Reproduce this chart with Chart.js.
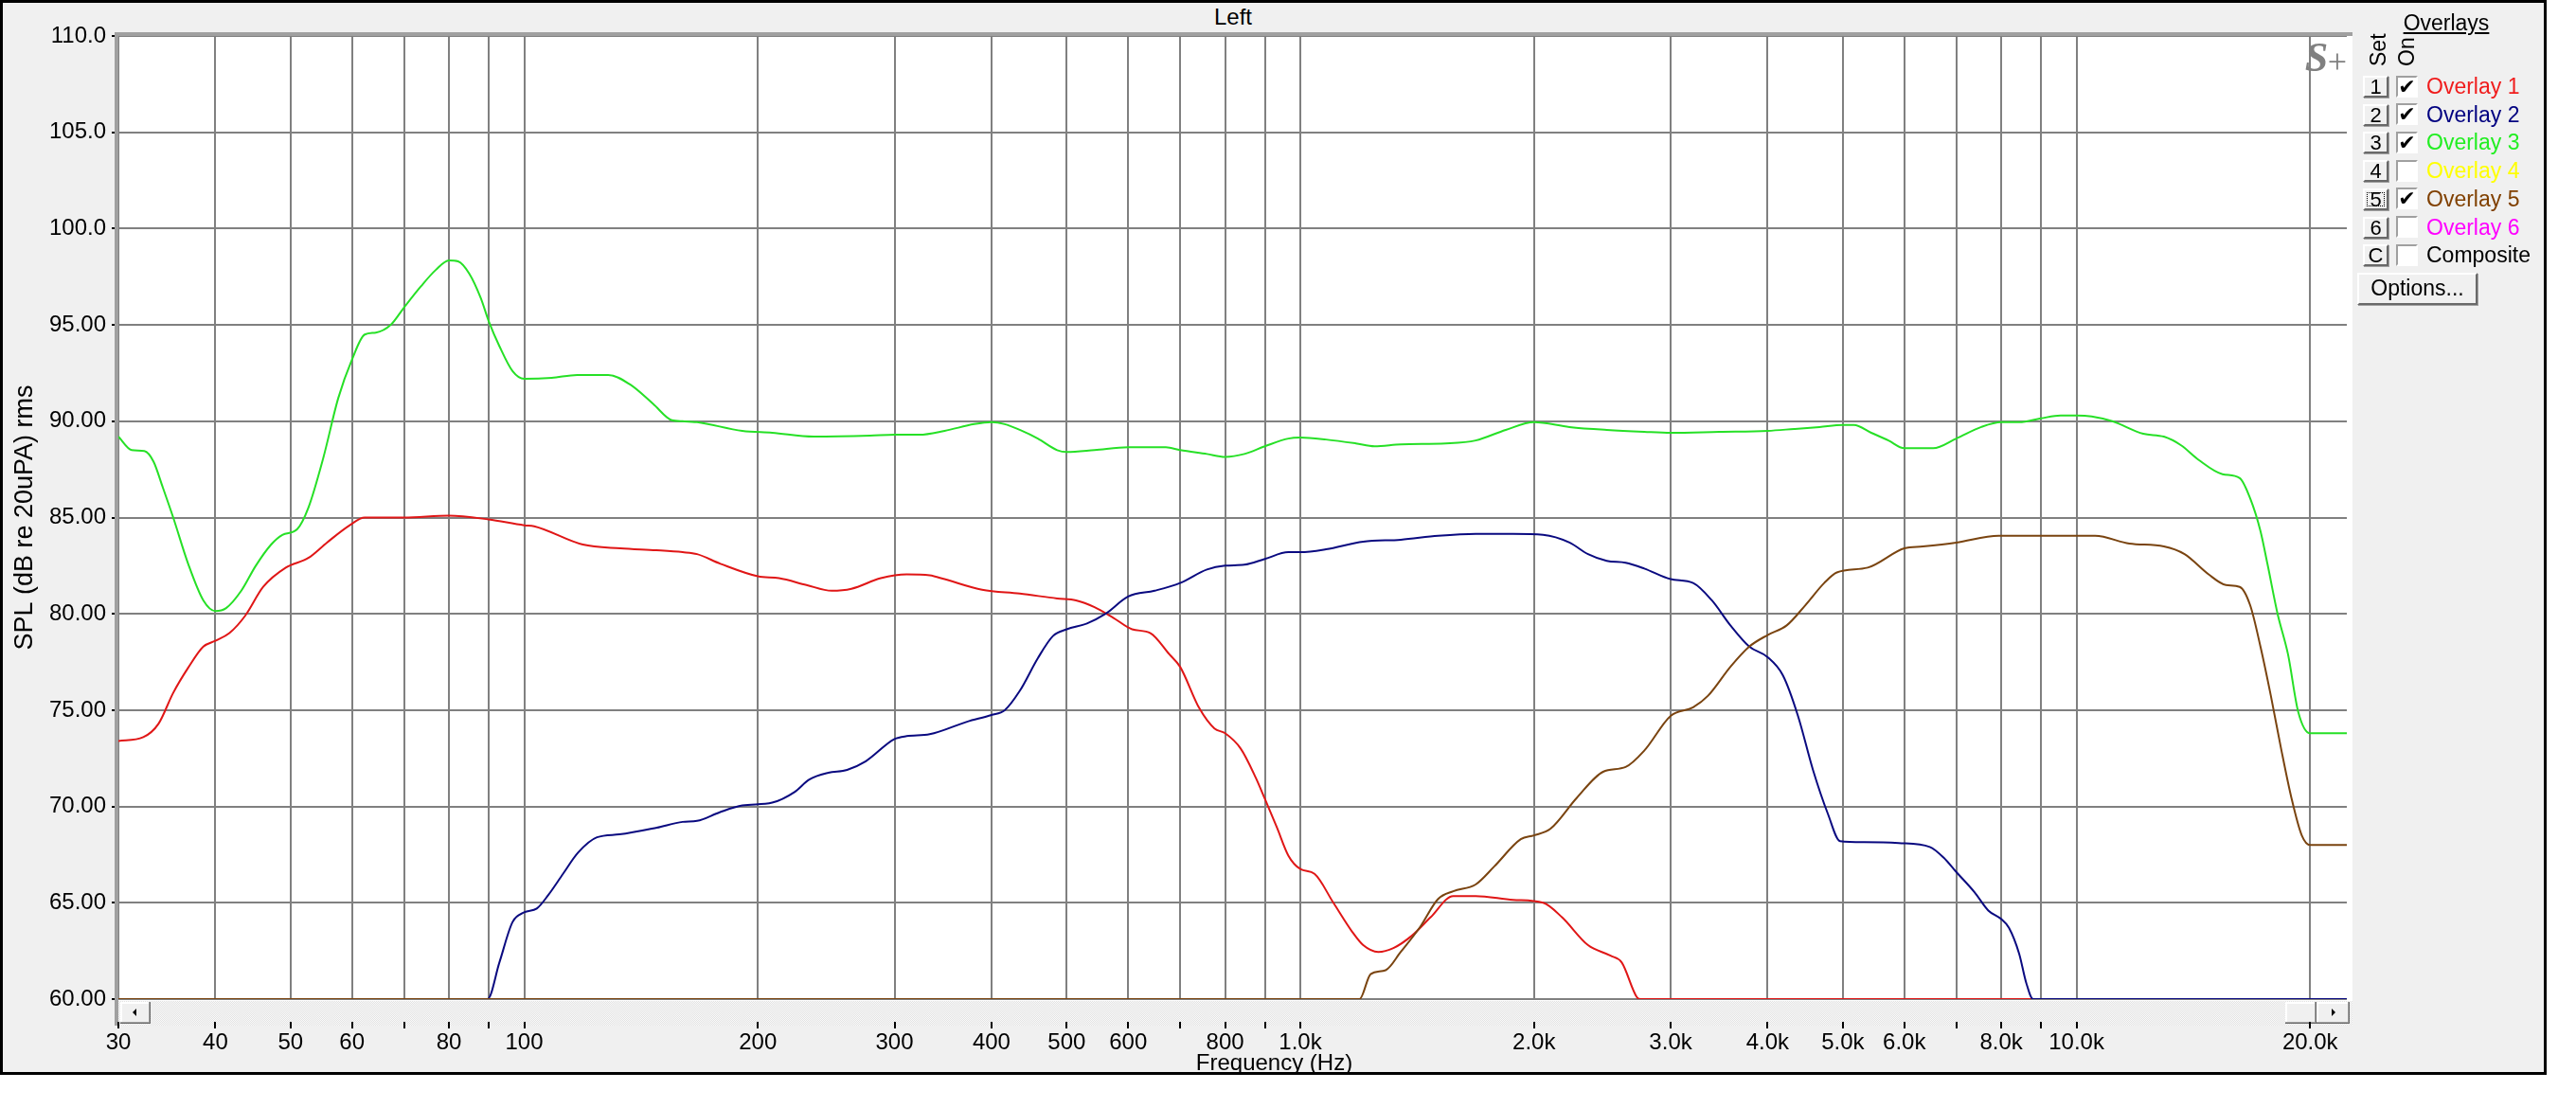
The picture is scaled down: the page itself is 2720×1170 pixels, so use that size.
<!DOCTYPE html>
<html>
<head>
<meta charset="utf-8">
<title>Left</title>
<script src="https://cdn.jsdelivr.net/npm/chart.js@4.4.1/dist/chart.umd.min.js"></script>
<style>
  html, body { margin: 0; padding: 0; background: #fff; }
  body { width: 2720px; height: 1170px; position: relative; overflow: hidden;
         font-family: "Liberation Sans", Arial, sans-serif; }
  #panel { position: absolute; left: 0; top: 0; width: 2689px; height: 1135px;
           box-sizing: border-box; border: 3px solid #000; background: #f0f0f0; }
  #plot { position: absolute; left: 0; top: 0; }
  #title { position: absolute; left: 1202px; top: 4px; width: 200px; text-align: center;
           font-size: 24px; line-height: 28px; color: #000; }
  #legend { position: absolute; left: 0; top: 0; width: 2720px; height: 1170px; pointer-events: none; }
  .hdr { position: absolute; left: 2520px; top: 10px; width: 126px; text-align: center;
         font-size: 23px; line-height: 28px; text-decoration: underline; }
  .vert { position: absolute; top: 30px; height: 40px; width: 24px; line-height: 24px; font-size: 23px;
          writing-mode: vertical-rl; transform: rotate(180deg); }
  .btn { position: absolute; box-sizing: border-box; background: #f0f0f0; border: 2px solid;
         border-color: #fff #696969 #696969 #fff; text-align: center; color: #000;
         box-shadow: 1px 1px 0 #a0a0a0; }
  .key { left: 2495px; width: 27px; height: 23px; font-size: 22px; line-height: 19px; }
  .chk { position: absolute; left: 2530px; width: 23px; height: 23px; box-sizing: border-box;
         border: 2px solid; border-color: #a0a0a0 #fff #fff #a0a0a0; background: #fff;
         font-size: 22px; font-weight: bold; line-height: 19px; text-align: center; color: #000;
         font-family: "DejaVu Sans", sans-serif; overflow: hidden; }
  .lbl { position: absolute; left: 2562px; font-size: 23px; line-height: 26px; white-space: nowrap; }
  .focus { position: absolute; left: 2px; top: 2px; right: 2px; bottom: 2px; border: 1px dotted #000; }
  #opts { left: 2489px; top: 288px; width: 127px; height: 34px; font-size: 23px; line-height: 29px; }
</style>
</head>
<body>
<div id="panel"></div>
<div id="title">Left</div>
<canvas id="plot" width="2720" height="1170"></canvas>
<div id="legend">
  <div class="hdr">Overlays</div>
  <div class="vert" style="left:2499px">Set</div>
  <div class="vert" style="left:2529px">On</div>
  <div class="btn" id="opts">Options...</div>
</div>
<script>
// frequency grid and tick labels
const xGridHz = [30, 40, 50, 60, 70, 80, 90, 100, 200, 300, 400, 500, 600, 700, 800, 900,
                 1000, 2000, 3000, 4000, 5000, 6000, 7000, 8000, 9000, 10000, 20000];
const xTickLabels = ['30', '40', '50', '60', '', '80', '', '100', '200', '300', '400', '500', '600', '', '800', '',
                     '1.0k', '2.0k', '3.0k', '4.0k', '5.0k', '6.0k', '', '8.0k', '', '10.0k', '20.0k'];
const xMinHz = 30, xMaxHz = 22300;
const yMinDb = 60, yMaxDb = 110, yStepDb = 5;

// Overlay 1 (red)
const overlay1Hz = [30, 32.3, 33.8, 35.3, 36.9, 38.6, 40, 41.7, 43.7, 46.1, 49.3, 52.7, 55.7, 59.6, 62.3, 70, 80, 90,
                    100, 103, 119, 133, 148, 160, 167, 179, 200, 213, 231, 249, 264, 288, 311, 333, 348, 389, 435,
                    486, 514, 543, 574, 607, 641, 678, 700, 741, 775, 800, 838, 876, 900, 933, 965, 1000, 1043,
                    1103, 1166, 1205, 1260, 1318, 1393, 1472, 1574, 1682, 1880, 2055, 2173, 2348, 2510, 2595,
                    2714, 2745, 22300];
const overlay1Db = [73.4, 73.6, 74.3, 75.9, 77.2, 78.3, 78.6, 79.0, 79.9, 81.4, 82.4, 82.9, 83.7, 84.6, 85.0, 85.0,
                    85.1, 84.9, 84.6, 84.55, 83.6, 83.4, 83.3, 83.2, 83.1, 82.6, 81.95, 81.85, 81.5, 81.2, 81.3,
                    81.85, 82.05, 82.0, 81.8, 81.25, 81.05, 80.8, 80.7, 80.35, 79.8, 79.2, 79.0, 77.9, 77.25,
                    75.1, 74.05, 73.8, 73.0, 71.5, 70.4, 68.9, 67.45, 66.75, 66.5, 65.0, 63.5, 62.8, 62.45,
                    62.65, 63.3, 64.25, 65.35, 65.35, 65.15, 65.0, 64.25, 62.8, 62.25, 61.9, 60.1, 60, 60];

// Overlay 2 (blue)
const overlay2Hz = [30, 89.7, 92.9, 96.6, 100, 103.8, 107.4, 112.2, 117.3, 124.1, 132.6, 148.2, 160, 167, 178.6, 191,
                    208.7, 223, 233, 246.5, 260.6, 275.5, 300, 311, 333, 372, 400, 416, 435, 459, 480, 500, 531,
                    561, 600, 649, 700, 758, 800, 847, 900, 965, 1000, 1079, 1205, 1347, 1505, 1682, 1880, 2055,
                    2222, 2348, 2482, 2625, 2774, 3000, 3207, 3390, 3582, 3788, 4000, 4186, 4377, 4576, 4785,
                    4959, 5328, 5902, 6472, 6741, 7000, 7389, 7698, 8000, 8185, 8437, 8614, 8792, 22300];
const overlay2Db = [60, 60, 61.9, 64.0, 64.5, 64.7, 65.4, 66.5, 67.6, 68.4, 68.55, 68.9, 69.2, 69.25, 69.7, 70.05,
                    70.2, 70.75, 71.4, 71.75, 71.9, 72.35, 73.5, 73.65, 73.75, 74.4, 74.75, 75.0, 76.0, 77.7,
                    78.85, 79.2, 79.5, 80.0, 80.9, 81.2, 81.6, 82.3, 82.5, 82.55, 82.85, 83.2, 83.2, 83.35,
                    83.75, 83.85, 84.05, 84.15, 84.15, 84.1, 83.7, 83.1, 82.75, 82.65, 82.35, 81.8, 81.6, 80.7,
                    79.4, 78.3, 77.75, 76.8, 74.7, 71.9, 69.6, 68.2, 68.15, 68.1, 67.9, 67.35, 66.6, 65.55,
                    64.6, 64.15, 63.7, 62.35, 60.85, 60, 60];

// Overlay 3 (green)
const overlay3Hz = [30, 31.2, 32.4, 33.3, 34.2, 35.3, 36.9, 38.6, 40, 41.3, 43.2, 45.1, 47.2, 48.8, 51, 52.7, 55.1,
                    57.6, 60, 62.3, 64.4, 67.3, 70, 73.6, 76.9, 80, 82.2, 85, 87.9, 90, 92.9, 96.6, 100, 108.5,
                    117, 128.3, 137, 146.6, 155, 160, 167, 191, 208.7, 236, 279, 300, 323, 348, 380, 400, 416,
                    435, 459, 486, 500, 543, 600, 671, 700, 758, 800, 847, 900, 965, 1000, 1079, 1179, 1246,
                    1347, 1539, 1682, 1839, 2000, 2222, 2482, 2774, 3000, 3465, 4000, 4327, 4665, 5000, 5166,
                    5439, 5725, 6000, 6536, 7000, 7539, 8000, 8437, 9000, 9538, 10000, 10460, 11120, 12190,
                    12960, 13640, 14360, 15420, 16230, 16740, 17260, 17620, 18160, 18730, 19310, 20000, 22300];
const overlay3Db = [89.2, 88.5, 88.45, 87.9, 86.6, 85.0, 82.6, 80.7, 80.15, 80.3, 81.2, 82.5, 83.6, 84.1, 84.4,
                    85.5, 88.1, 91.2, 93.2, 94.5, 94.6, 95.0, 95.9, 97.0, 97.85, 98.35, 98.3, 97.65, 96.4, 95.2,
                    93.9, 92.6, 92.2, 92.25, 92.4, 92.4, 91.9, 90.9, 90.05, 90.0, 89.95, 89.5, 89.4, 89.2, 89.25,
                    89.3, 89.3, 89.5, 89.85, 89.95, 89.85, 89.55, 89.1, 88.5, 88.4, 88.5, 88.65, 88.65, 88.5,
                    88.3, 88.15, 88.3, 88.7, 89.1, 89.15, 89.05, 88.85, 88.7, 88.8, 88.85, 89.0, 89.55, 89.95,
                    89.7, 89.55, 89.45, 89.4, 89.45, 89.5, 89.6, 89.7, 89.8, 89.8, 89.4, 89.0, 88.6, 88.6, 89.1,
                    89.7, 89.95, 89.95, 90.15, 90.3, 90.3, 90.25, 90.0, 89.35, 89.2, 88.75, 88.0, 87.25, 87.05,
                    86.0, 84.3, 82.6, 80.0, 77.9, 74.9, 73.8, 73.8];

// Overlay 5 (brown)
const overlay5Hz = [30, 1192, 1232, 1288, 1347, 1424, 1505, 1574, 1682, 1779, 1923, 2000, 2101, 2271, 2455, 2625,
                    2774, 3000, 3207, 3352, 3582, 3788, 4000, 4233, 4474, 4731, 4911, 5383, 6000, 6339, 7000,
                    7938, 9000, 10570, 11700, 12960, 13780, 14800, 15580, 16230, 16740, 17260, 17800, 18350,
                    18920, 19510, 20000, 22300];
const overlay5Db = [60, 60, 61.3, 61.5, 62.45, 63.7, 65.2, 65.6, 65.95, 66.9, 68.3, 68.5, 68.85, 70.45, 71.8, 72.05,
                    72.9, 74.7, 75.15, 75.75, 77.25, 78.3, 78.9, 79.4, 80.45, 81.6, 82.15, 82.4, 83.4, 83.5,
                    83.7, 84.05, 84.05, 84.05, 83.65, 83.5, 83.1, 82.05, 81.5, 81.4, 80.45, 78.3, 75.75, 73.0,
                    70.45, 68.5, 68.0, 68.0];

// legend rows
const overlayKeys = ['1', '2', '3', '4', '5', '6', 'C'];
const overlayNames = ['Overlay 1', 'Overlay 2', 'Overlay 3', 'Overlay 4', 'Overlay 5', 'Overlay 6', 'Composite'];
const overlayOn = [true, true, true, false, true, false, false];
const overlayTextColors = ['#f01c1c', '#000080', '#22ee22', '#ffff00', '#804000', '#ff00ff', '#000000'];

const legend = document.getElementById('legend');
overlayKeys.forEach((k, i) => {
    const top = 80 + i * 29.7;
    const b = document.createElement('div');
    b.className = 'btn key';
    b.style.top = top + 'px';
    b.textContent = k;
    if (k === '5') {
        const f = document.createElement('div');
        f.className = 'focus';
        b.appendChild(f);
    }
    legend.appendChild(b);

    const c = document.createElement('div');
    c.className = 'chk';
    c.style.top = (top - 0.5) + 'px';
    c.textContent = overlayOn[i] ? '\u2714' : '';
    legend.appendChild(c);

    const l = document.createElement('div');
    l.className = 'lbl';
    l.style.top = (top - 2) + 'px';
    l.style.color = overlayTextColors[i];
    l.textContent = overlayNames[i];
    legend.appendChild(l);
});

function pts(hz, db) {
    return hz.map((f, i) => ({ x: f, y: db[i] }));
}

function bevel(ctx, x, y, w, h) {
    ctx.fillStyle = '#f0f0f0'; ctx.fillRect(x, y, w, h);
    ctx.fillStyle = '#ffffff'; ctx.fillRect(x, y, w, 2); ctx.fillRect(x, y, 2, h);
    ctx.fillStyle = '#a0a0a0'; ctx.fillRect(x, y + h - 2, w, 2); ctx.fillRect(x + w - 2, y, 2, h);
    ctx.fillStyle = '#696969'; ctx.fillRect(x, y + h - 1, w, 1); ctx.fillRect(x + w - 1, y, 1, h);
}

function arrow(ctx, cx, cy, dir) {
    ctx.fillStyle = '#000';
    ctx.beginPath();
    ctx.moveTo(cx - 2 * dir, cy);
    ctx.lineTo(cx + 2 * dir, cy - 4);
    ctx.lineTo(cx + 2 * dir, cy + 4);
    ctx.closePath();
    ctx.fill();
}

const framePlugin = {
    id: 'frame',
    beforeDraw(chart) {
        const ctx = chart.ctx, a = chart.chartArea;
        ctx.save();
        ctx.fillStyle = '#ffffff';
        ctx.fillRect(a.left, a.top, a.right - a.left + 6, a.bottom - a.top + 28);
        // scrollbar strip
        const pc = document.createElement('canvas');
        pc.width = 2; pc.height = 2;
        const p = pc.getContext('2d');
        p.fillStyle = '#fafafa'; p.fillRect(0, 0, 2, 2);
        p.fillStyle = '#e2e2e2'; p.fillRect(0, 0, 1, 1); p.fillRect(1, 1, 1, 1);
        ctx.fillStyle = ctx.createPattern(pc, 'repeat');
        ctx.fillRect(a.left, a.bottom + 2, a.right - a.left + 6, 26);
        bevel(ctx, a.left + 2, a.bottom + 3, 32, 23);
        arrow(ctx, a.left + 17, a.bottom + 14, 1);
        bevel(ctx, a.right - 65, a.bottom + 3, 33, 23);
        bevel(ctx, a.right - 32, a.bottom + 3, 35, 23);
        arrow(ctx, a.right - 14, a.bottom + 14, -1);
        ctx.restore();
    },
    afterDraw(chart) {
        const ctx = chart.ctx, a = chart.chartArea, xs = chart.scales.x;
        ctx.save();
        // sunken border, top and left
        ctx.fillStyle = '#a0a0a0';
        ctx.fillRect(a.left - 4, a.top - 4, a.right - a.left + 10, 4);
        ctx.fillRect(a.left - 4, a.top - 4, 4, a.bottom - a.top + 32);
        // tick marks under the scrollbar
        ctx.strokeStyle = '#000';
        ctx.lineWidth = 2;
        xs.ticks.forEach(t => {
            const px = Math.round(xs.getPixelForValue(t.value));
            ctx.beginPath();
            ctx.moveTo(px, a.bottom + 24);
            ctx.lineTo(px, a.bottom + 31);
            ctx.stroke();
        });
        // x axis title
        ctx.fillStyle = '#000';
        ctx.font = '24px "Liberation Sans", Arial, sans-serif';
        ctx.textAlign = 'center';
        ctx.textBaseline = 'middle';
        ctx.fillText('Frequency (Hz)', (a.left + a.right) / 2 + 44, a.bottom + 68);
        // S+ mark
        ctx.fillStyle = '#808080';
        ctx.font = 'italic bold 44px "Liberation Serif", serif';
        ctx.fillText('S', a.right - 32, a.top + 26);
        ctx.font = '36px "Liberation Serif", serif';
        ctx.fillText('+', a.right - 10, a.top + 30);
        ctx.restore();
    }
};

Chart.defaults.font.family = '"Liberation Sans", Arial, sans-serif';
Chart.defaults.font.size = 24;
Chart.defaults.color = '#000';

new Chart(document.getElementById('plot'), {
    type: 'line',
    data: {
        datasets: [
            { label: 'Overlay 3', data: pts(overlay3Hz, overlay3Db), borderColor: '#26e026', order: 0 },
            { label: 'Overlay 5', data: pts(overlay5Hz, overlay5Db), borderColor: '#7a4410', order: 1 },
            { label: 'Overlay 2', data: pts(overlay2Hz, overlay2Db), borderColor: '#0a0a80', order: 2 },
            { label: 'Overlay 1', data: pts(overlay1Hz, overlay1Db), borderColor: '#e01616', order: 3 }
        ]
    },
    options: {
        responsive: false,
        animation: false,
        devicePixelRatio: 1,
        layout: { padding: { left: 0, top: 38, right: 242, bottom: 0 } },
        elements: {
            point: { radius: 0 },
            line: { borderWidth: 2, cubicInterpolationMode: 'monotone', fill: false }
        },
        plugins: { legend: { display: false }, tooltip: { enabled: false } },
        scales: {
            x: {
                type: 'logarithmic',
                min: xMinHz,
                max: xMaxHz,
                afterBuildTicks: s => { s.ticks = xGridHz.map(v => ({ value: v })); },
                afterFit: s => { s.height = 115; },
                ticks: {
                    autoSkip: false, maxRotation: 0, padding: 32,
                    callback: (v, i) => xTickLabels[i]
                },
                grid: { color: '#808080', lineWidth: 2, drawTicks: false },
                border: { display: false }
            },
            y: {
                min: yMinDb,
                max: yMaxDb,
                afterFit: s => { s.width = 125; },
                ticks: {
                    stepSize: yStepDb, padding: 6,
                    callback: v => v >= 100 ? v.toFixed(1) : v.toFixed(2)
                },
                grid: { color: '#808080', lineWidth: 2, drawTicks: true, tickLength: 7, tickColor: '#000', tickWidth: 2 },
                border: { display: false },
                title: { display: true, text: 'SPL (dB re 20uPA) rms', font: { size: 27 }, padding: { top: 10, bottom: 0 } }
            }
        }
    },
    plugins: [framePlugin]
});
</script>
</body>
</html>
